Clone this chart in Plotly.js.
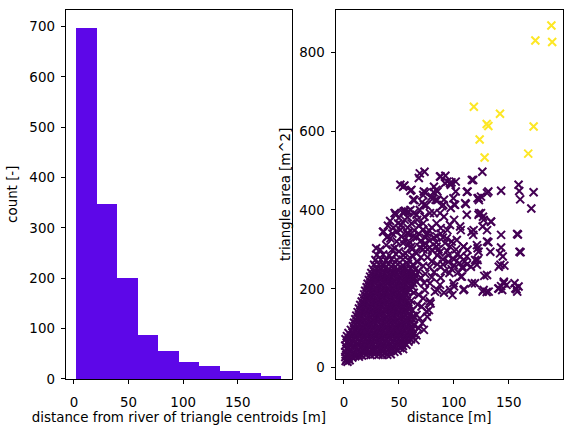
<!DOCTYPE html>
<html>
<head>
<meta charset="utf-8">
<script src="https://cdn.plot.ly/plotly-3.0.1.min.js"></script>
<style>
  html, body { margin: 0; padding: 0; background: #ffffff; }
  #chart { width: 571px; height: 432px; }
</style>
</head>
<body>
<div id="chart"></div>
<script>
// Histogram of centroid distances: bin edges [m] and counts per bin
const binEdges = [2.1, 20.9, 39.6, 58.4, 77.2, 95.9, 114.7, 133.5, 152.2, 171.0, 189.7];
const binCounts = [697, 348, 201, 87, 56, 34, 26, 16, 12, 6];

// Triangles with a large area (drawn in yellow): [distance m, area m^2]
const largeTriangles = [
  [188.8, 868], [174.2, 830], [189.5, 826], [118.2, 662], [142.0, 644],
  [129.9, 618], [131.4, 613], [172.6, 612], [123.5, 579], [167.7, 543], [128.0, 533]
];

// Dense core of small triangles close to the river
const coreTriangles = [
  [1.5,17],[3.2,15],[5.1,19],[2.4,22],
  [1.2,27],[4.3,25],[7.6,26],[10.2,29],[13.5,28],
  [2.1,33],[5.6,31],[9.3,34],[12.8,32],[16.4,31],[20.2,33],[24.1,32],[27.7,34],[31.5,33],[35.2,32],[39.4,33],[42.6,34],
  [1.3,40],[4.8,41],[8.5,39],[12.2,42],[15.9,40],[19.6,41],[23.4,39],[27.1,42],[30.8,40],[34.6,41],[38.3,39],[42.1,42],[45.8,40],[48.9,43],
  [2.2,48],[6.1,47],[9.8,49],[13.6,47],[17.3,50],[21.1,48],[24.8,47],[28.6,49],[32.3,48],[36.1,50],[39.9,47],[43.6,49],[47.4,48],[51.2,50],[53.8,47],
  [1.1,56],[4.9,57],[8.7,55],[12.4,58],[16.2,56],[19.9,57],[23.7,55],[27.4,58],[31.2,56],[34.9,57],[38.7,55],[42.4,58],[46.2,56],[49.9,57],[53.6,55],[56.8,58],
  [2.5,64],[6.3,65],[10.1,63],[13.8,66],[17.6,64],[21.3,65],[25.1,63],[28.8,66],[32.6,64],[36.3,65],[40.1,63],[43.8,66],[47.6,64],[51.3,65],[55.1,63],[58.7,66],
  [1.4,72],[5.2,73],[8.9,71],[12.7,74],[16.4,72],[20.2,73],[23.9,71],[27.7,74],[31.4,72],[35.2,73],[38.9,71],[42.7,74],[46.4,72],[50.2,73],[53.9,71],[57.7,74],[60.9,72],
  [2.7,80],[6.4,81],[10.2,79],[13.9,82],[17.7,80],[21.4,81],[25.2,79],[28.9,82],[32.7,80],[36.4,81],[40.2,79],[43.9,82],[47.7,80],[51.4,81],[55.2,79],[58.9,82],[62.1,80],
  [4.1,88],[7.8,89],[11.6,87],[15.3,90],[19.1,88],[22.8,89],[26.6,87],[30.3,90],[34.1,88],[37.8,89],[41.6,87],[45.3,90],[49.1,88],[52.8,89],[56.6,87],[60.3,90],[63.2,88],
  [6.3,96],[10.1,97],[13.8,95],[17.6,98],[21.3,96],[25.1,97],[28.8,95],[32.6,98],[36.3,96],[40.1,97],[43.8,95],[47.6,98],[51.3,96],[55.1,97],[58.8,95],[62.4,98],
  [8.2,105],[11.9,106],[15.7,104],[19.4,107],[23.2,105],[26.9,106],[30.7,104],[34.4,107],[38.2,105],[41.9,106],[45.7,104],[49.4,107],[53.2,105],[56.9,106],[60.7,104],
  [9.1,114],[12.8,115],[16.6,113],[20.3,116],[24.1,114],[27.8,115],[31.6,113],[35.3,116],[39.1,114],[42.8,115],[46.6,113],[50.3,116],[54.1,114],[57.8,115],[61.6,113],
  [10.3,123],[14.1,124],[17.8,122],[21.6,125],[25.3,123],[29.1,124],[32.8,122],[36.6,125],[40.3,123],[44.1,124],[47.8,122],[51.6,125],[55.3,123],[59.1,124],
  [11.2,132],[14.9,133],[18.7,131],[22.4,134],[26.2,132],[29.9,133],[33.7,131],[37.4,134],[41.2,132],[44.9,133],[48.7,131],[52.4,134],[56.2,132],[59.9,133],[63.3,131],
  [12.4,141],[16.2,142],[19.9,140],[23.7,143],[27.4,141],[31.2,142],[34.9,140],[38.7,143],[42.4,141],[46.2,142],[49.9,140],[53.7,143],[57.4,141],
  [13.6,150],[17.3,151],[21.1,149],[24.8,152],[28.6,150],[32.3,151],[36.1,149],[39.8,152],[43.6,150],[47.3,151],[51.1,149],[54.8,152],[58.6,150],
  [14.8,159],[18.6,160],[22.3,158],[26.1,161],[29.8,159],[33.6,160],[37.3,158],[41.1,161],[44.8,159],[48.6,160],[52.3,158],[56.1,161],[59.6,159],
  [16.1,168],[19.8,169],[23.6,167],[27.3,170],[31.1,168],[34.8,169],[38.6,167],[42.3,170],[46.1,168],[49.8,169],[53.6,167],[57.3,170],
  [17.2,177],[20.9,178],[24.7,176],[28.4,179],[32.2,177],[35.9,178],[39.7,176],[43.4,179],[47.2,177],[50.9,178],[54.7,176],[58.2,179],
  [18.4,186],[22.1,187],[25.9,185],[29.6,188],[33.4,186],[37.1,187],[40.9,185],[44.6,188],[48.4,186],[52.1,187],[55.9,185],
  [19.3,195],[23.1,196],[26.8,194],[30.6,197],[34.3,195],[38.1,196],[41.8,194],[45.6,197],[49.3,195],[53.1,196],[56.8,194],[60.4,197],
  [20.6,204],[24.3,205],[28.1,203],[31.8,206],[35.6,204],[39.3,205],[43.1,203],[46.8,206],[50.6,204],[54.3,205],[58.1,203],
  [21.5,213],[25.2,214],[29.0,212],[32.7,215],[36.5,213],[40.2,214],[44.0,212],[47.7,215],[51.5,213],[55.2,214],[59.0,212],[62.8,215],
  [22.7,222],[26.4,223],[30.2,221],[33.9,224],[37.7,222],[41.4,223],[45.2,221],[48.9,224],[52.7,222],[56.4,223],[60.2,221],
  [23.8,231],[27.6,232],[31.3,230],[35.1,233],[38.8,231],[42.6,232],[46.3,230],[50.1,233],[53.8,231],[57.6,232],[61.3,230],[65.2,233],
  [24.9,240],[28.7,241],[32.4,239],[36.2,242],[39.9,240],[43.7,241],[47.4,239],[51.2,242],[54.9,240],[58.7,241],
  [26.1,250],[29.8,251],[33.6,249],[37.3,252],[41.1,250],[44.8,251],[48.6,249],[52.3,252],[56.1,250],[60.4,251],
  [27.4,261],[31.8,262],[36.1,260],[40.5,263],[44.8,261],[49.2,262],[53.5,260],[58.3,263],
  [28.6,273],[33.5,274],[38.4,272],[43.2,275],[48.1,273],[53.6,274],
  [29.9,286],[35.7,287],[41.3,285],[47.2,288]
];

// Triangles at the edge of the core and the cluster near 90 m
const edgeTriangles = [
  [66.0,134],[69.0,125],[70.6,155],[75.2,142],[72.1,176],[78.2,168],[73.6,197],[82.8,193],
  [72.7,96],[71.2,113],[75.8,129],[77.3,146],[78.8,163],[68.0,100],[66.0,82],[65.0,70],[67.0,160],[68.0,185],
  [62.5,146],[63.8,107],[62.7,122],[61.2,170],[63.5,190],[61.9,206],[64.1,224],[62.5,239],[64.6,249],
  [66.0,290],[70.0,280],[67.0,268],[72.0,258],[68.0,245],[74.0,238],[70.0,228],[66.0,218],[73.0,215],[76.0,300],[72.0,300],
  [80,270],[85,262],[90,275],[95,268],[88,255],[100,260],[78,255],[92,245],[85,285],[95,285],
  [100,275],[105,265],[82,242],[98,250],[76,280],[90,262],[87,292],[103,288],[80,298],
  [78.2,214],[87.4,210],[96.5,197],[99.6,214],[91.0,190],[84.9,197],[98.7,184],
  [96,240],[104,242],[108,252],[112,262],[88,228],[80,230],[106,282],[110,270]
];

// Scattered triangles further from the river
const outerTriangles = [
  [69.0,493],[73.3,497],[87.4,485],[92.3,487],[94.1,472],[97.8,470],[55.0,462],[60.5,449],
  [74.2,444],[81.6,445],[84.0,451],[101.7,472],[111.8,446],[117.6,476],[125.9,497],[124.7,434],
  [122.8,425],[131.4,447],[143.0,449],[158.9,464],[159.5,448],[160.4,427],[172.6,445],[170.5,404],
  [64.2,425],[71.2,420],[74.9,412],[80.4,428],[84.9,425],[89.2,410],[100.2,414],[110.9,415],
  [47.1,387],[55.6,398],[63.6,392],[66.6,375],[73.3,383],[81.9,392],[91.0,383],[100.2,375],
  [124.7,392],[126.5,383],[133.8,370],[126.2,358],[36.1,345],[39.1,331],[51.3,349],[57.4,341],
  [77.3,349],[88.0,354],[94.1,349],[106.3,349],[116.1,345],[117.6,337],[143.0,337],[158.3,338],
  [131.4,318],[121.6,303],[108.8,307],[112.4,299],[143.0,305],[142.1,290],[160.7,293],[121.6,273],
  [115.5,256],[140.9,256],[146.0,259],[127.7,233],[119.2,214],[109.4,199],[126.2,193],[129.9,192],
  [140.5,201],[143.0,207],[145.4,214],[147.9,210],[155.2,214],[157.0,199],[158.9,206],[100.2,206],
  [106.3,231],[107.9,256],[141.0,201],[144.0,197],[156.0,201],[157.7,193],[145.5,218],[142.4,261],
  [68.1,481],[88.0,485],[97.2,464],[116.4,476],[51.3,464],[72.7,447],[81.9,459],[85.0,447],
  [101.7,447],[112.5,447],[121.6,430],[63.5,426],[72.7,413],[83.4,426],[91.0,426],[97.2,405],
  [123.1,392],[133.8,371],[157.6,339],[144.5,282],[159.8,294],[91.9,468],[96.5,468],
  [72.1,438],[79.7,434],[99.6,430],[110.3,417],[122.5,430],[130.2,443],[90.4,413],[101.1,413],
  [69.0,400],[78.2,392],[87.4,392],[111.8,388],[122.5,388],[127.1,375],[72.1,366],[84.3,366],
  [96.5,362],[105.7,358],[118.0,349],[130.2,349],[130.2,320],[75.2,337],[84.3,333],[93.5,328],
  [102.7,324],[72.1,311],[84.3,307],[96.5,307],[108.8,307],[121.0,311],
  [111.8,282],[119.4,273],[122.5,294],[133.2,294],[121.0,261],[130.2,235],[108.8,197],[127.1,197],
  [131.7,193],[116.4,214],[107.2,231],
  [53.8,459],[61.4,451],[63.0,426],[46.1,392],[53.8,392],[58.4,396],[55.3,375],[49.2,366],[61.4,366],
  [35.5,345],[40.1,333],[47.7,345],[52.2,333],[58.4,341],[63.0,333],[29.3,303],[38.5,311],[46.1,303],
  [53.8,316],[61.4,307],[33.0,299],[42.2,328],[46.7,392],[54.4,396],[60.5,400],
  [68,360],[72,350],[76,342],[80,355],[66,330],[70,322],[74,315],[78,305],[84,318],[88,340],[92,316],[69,305],[82,330],
  [44,300],[50,295],[56,290],[62,285],[48,320],[55,325],[60,318],[45,355],[52,362],[58,355],[64,348],
  [42,372],[50,380],[58,382],[66,388],[40,360],[44,340],[68,340],[74,330],[78,322],[86,300],[94,296],
  [102,300],[98,320],[90,330],[62,300],[58,310],[53.8,286],[59.1,272],[62.7,261]
];

const smallTriangles = coreTriangles.concat(edgeTriangles, outerTriangles);

const font = { family: 'DejaVu Sans, Liberation Sans, sans-serif', size: 13.4, color: '#000000' };

const axisStyle = {
  showline: true, mirror: true, linecolor: '#000000', linewidth: 1,
  ticks: 'outside', ticklen: 4.4, tickwidth: 1, tickcolor: '#000000',
  ticklabelstandoff: 3,
  showgrid: false, zeroline: false, tickfont: font, automargin: false
};

// Bars spanning each bin, placed from the bin edges
const barCenters = binCounts.map((_, i) => (binEdges[i] + binEdges[i + 1]) / 2);
const barWidths = binCounts.map((_, i) => binEdges[i + 1] - binEdges[i]);

const markerStyle = (colour) => ({ symbol: 'x-thin', size: 8, color: colour, line: { width: 2, color: colour } });

const traces = [
  {
    type: 'bar', x: barCenters, y: binCounts, width: barWidths,
    marker: { color: '#5d07e8', line: { width: 0 } },
    xaxis: 'x', yaxis: 'y', hoverinfo: 'x+y'
  },
  {
    type: 'scatter', mode: 'markers',
    x: smallTriangles.map(p => p[0]), y: smallTriangles.map(p => p[1]),
    marker: markerStyle('#440154'),
    xaxis: 'x2', yaxis: 'y2'
  },
  {
    type: 'scatter', mode: 'markers',
    x: largeTriangles.map(p => p[0]), y: largeTriangles.map(p => p[1]),
    marker: markerStyle('#fde725'),
    xaxis: 'x2', yaxis: 'y2'
  }
];

const layout = {
  width: 571, height: 432,
  margin: { l: 0, r: 0, t: 0, b: 0 },
  paper_bgcolor: '#ffffff', plot_bgcolor: '#ffffff',
  showlegend: false, bargap: 0, font: font,
  xaxis: Object.assign({}, axisStyle, {
    domain: [0.1156, 0.511], range: [-7.3, 199.5],
    tickvals: [0, 50, 100, 150], anchor: 'y', ticklabelstandoff: 7,
    title: { text: 'distance from river of triangle centroids [m]', font: font, standoff: 0 }
  }),
  yaxis: Object.assign({}, axisStyle, {
    domain: [0.1227, 0.978], range: [0, 734],
    tickvals: [0, 100, 200, 300, 400, 500, 600, 700], anchor: 'x',
    title: { text: 'count [-]', font: font, standoff: 8 }
  }),
  xaxis2: Object.assign({}, axisStyle, {
    domain: [0.5884, 0.9855], range: [-7.3, 199.1],
    tickvals: [0, 50, 100, 150], anchor: 'y2', ticklabelstandoff: 7,
    title: { text: 'distance [m]', font: font, standoff: 0 }
  }),
  yaxis2: Object.assign({}, axisStyle, {
    domain: [0.1227, 0.978], range: [-28.7, 908.6],
    tickvals: [0, 200, 400, 600, 800], anchor: 'x2',
    title: { text: 'triangle area [m^2]', font: font, standoff: 5 }
  })
};

Plotly.newPlot('chart', traces, layout, { displayModeBar: false, staticPlot: true });
</script>
</body>
</html>
